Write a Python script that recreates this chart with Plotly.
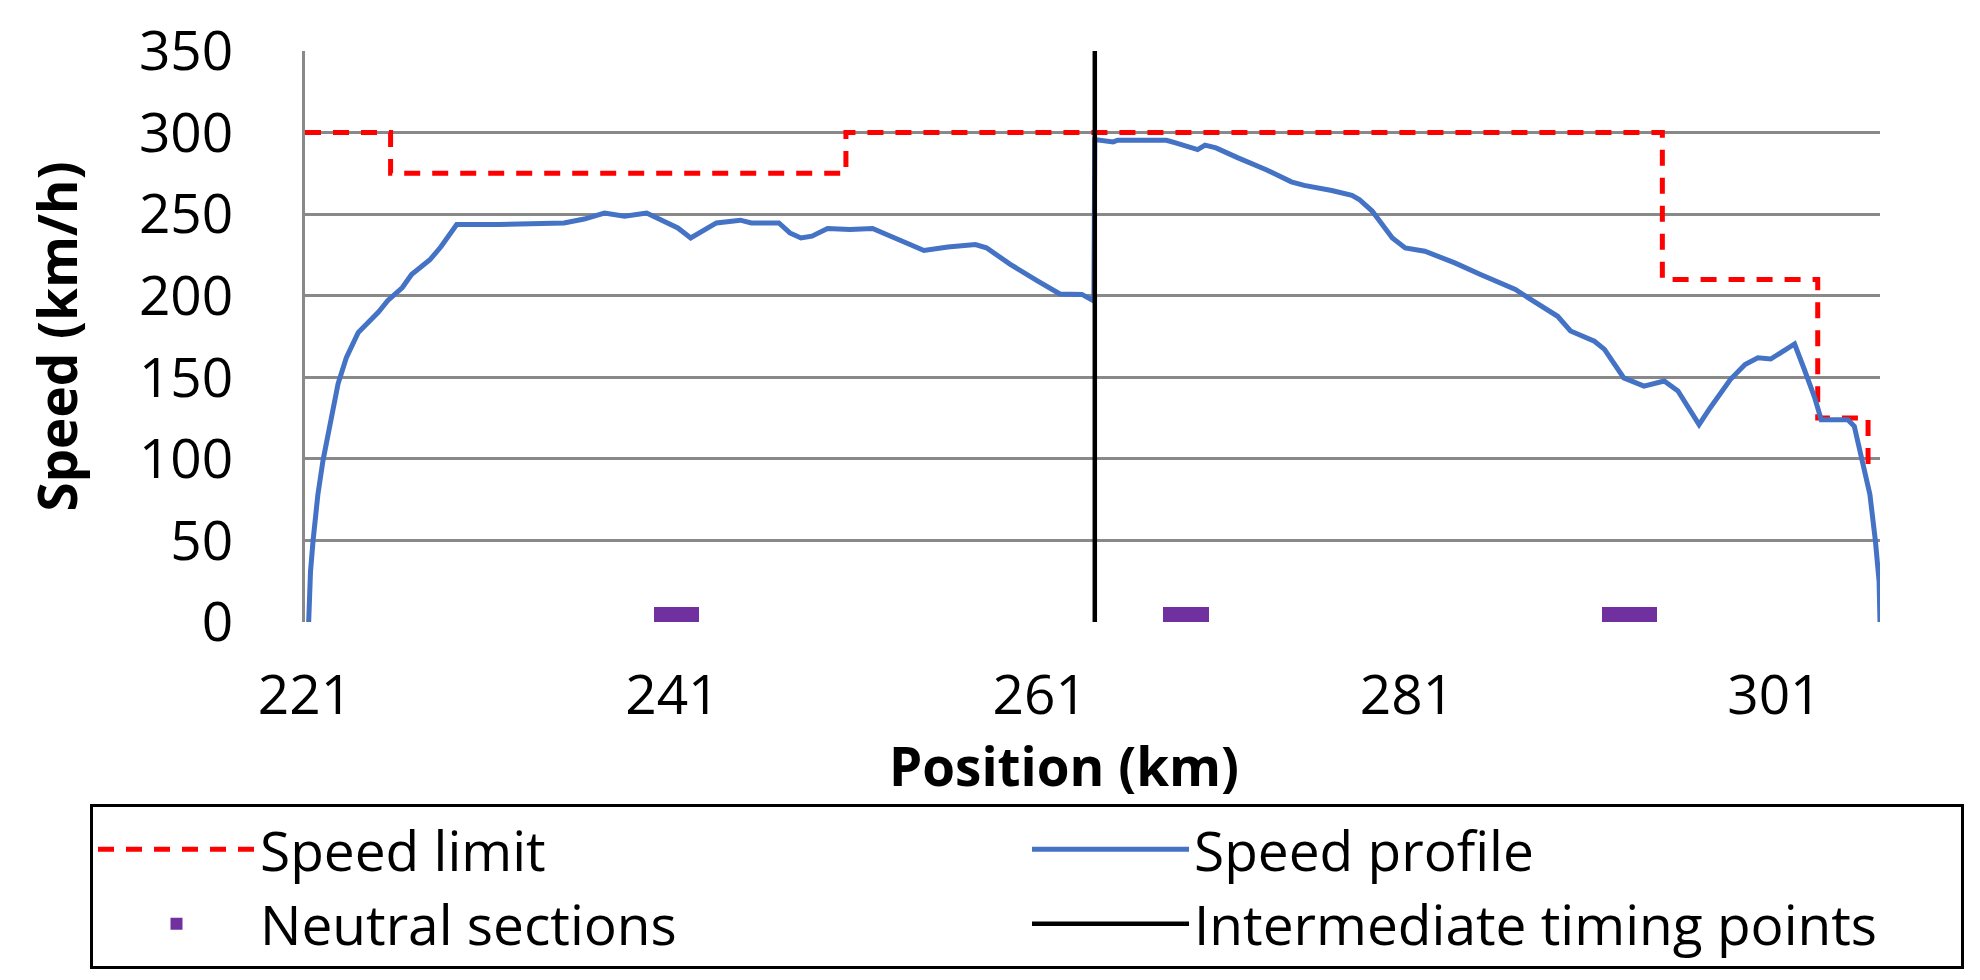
import plotly.graph_objects as go

# ---------------- data ----------------
limit_pos = [221.0, 225.66, 225.66, 250.45, 250.45, 294.9, 294.9, 303.36, 303.36, 306.1, 306.1]
limit_kmh = [300, 300, 275, 275, 300, 300, 210, 210, 125, 125, 95]

profile_pos = [221.2, 221.3, 221.44, 221.7, 221.98, 222.34, 222.8, 223.25, 223.9, 225.0,
               225.5, 226.3, 226.8, 227.8, 228.4, 229.26, 231.55, 235.1, 236.2, 237.3,
               238.4, 239.6, 240.6, 241.3, 242.0, 243.4, 244.7, 245.3, 246.8, 247.4,
               248.0, 248.6, 249.45, 250.67, 251.9, 252.85, 254.7, 256.0, 257.5, 258.1,
               259.4, 260.9, 262.1, 263.3, 263.95, 264.0, 265.0, 265.25, 267.9, 268.4,
               269.6, 270.0, 270.6, 271.8, 273.3, 274.7, 275.4, 276.9, 278.0, 278.4,
               279.1, 280.2, 280.9, 281.97, 283.6, 285.0, 286.5, 286.9, 287.6, 289.2,
               289.9, 291.2, 291.75, 292.8, 293.9, 295.0, 295.75, 296.3, 296.9, 297.5,
               298.6, 299.4, 300.1, 300.8, 302.1, 302.6, 303.2, 303.55, 305.0, 305.35,
               305.7, 306.2, 306.5, 306.7, 306.75]
profile_kmh = [0, 31, 50, 78, 99, 121, 146, 162, 177.5, 190,
               197, 205, 213, 222, 230, 243.6, 243.6, 244.6, 247, 250.7,
               248.7, 250.7, 245, 241.5, 235.4, 244.6, 246.3, 244.6, 244.6, 238.5,
               235.4, 236.5, 241.2, 240.6, 241.2, 236.5, 227.7, 229.8, 231.4, 229.4,
               219.2, 209, 201.1, 200.8, 196.7, 295.7, 294.3, 295.3, 295.3, 293.7,
               289.6, 292.3, 290.6, 284.5, 277.4, 269.8, 267.6, 264.5, 261.5, 259,
               251.9, 235.4, 229.3, 227.3, 220.1, 213, 206.2, 203.8, 198.7, 187.4,
               178.4, 172.1, 167.1, 149.6, 144.6, 147.7, 141.6, 131.2, 121, 131.2,
               148.6, 157.8, 161.9, 161.2, 170.4, 155.7, 137.3, 124, 124, 120,
               102.6, 78.2, 49.6, 25, 0]

neutral_start = [240.0, 267.7, 291.6]
neutral_end = [242.45, 270.2, 294.6]
neutral_height = 9

timing_pos = [264.0]
timing_span = [0, 350]

x_ticks = [221, 241, 261, 281, 301]
y_ticks = [0, 50, 100, 150, 200, 250, 300, 350]

x_title = "Position (km)"
y_title = "Speed (km/h)"

# ---------------- figure ----------------
FONT = "Open Sans"
W, H = 1980, 980
L, R, T, B = 297, 108, 43, 366
pw, ph = W - L - R, H - T - B

fig = go.Figure()

fig.add_trace(go.Scatter(
    x=limit_pos, y=limit_kmh, mode="lines", name="Speed limit",
    line=dict(color="#FF0000", width=5, dash="16px,12px")))

fig.add_trace(go.Scatter(
    x=profile_pos, y=profile_kmh, mode="lines", name="Speed profile",
    line=dict(color="#4472C4", width=5)))

fig.add_trace(go.Bar(
    x=[(s + e) / 2 for s, e in zip(neutral_start, neutral_end)],
    y=[neutral_height] * len(neutral_start),
    width=[e - s for s, e in zip(neutral_start, neutral_end)],
    name="Neutral sections", marker=dict(color="#7030A0", line=dict(width=0))))

for i, tp in enumerate(timing_pos):
    fig.add_trace(go.Scatter(
        x=[tp, tp], y=timing_span, mode="lines", name="Intermediate timing points",
        line=dict(color="#000000", width=4.5), showlegend=(i == 0)))

fig.update_layout(
    width=W, height=H,
    margin=dict(l=L, r=R, t=T, b=B, autoexpand=False),
    paper_bgcolor="white", plot_bgcolor="white",
    font=dict(family=FONT, size=55, color="black"),
    showlegend=True,
    legend=dict(
        orientation="h",
        x=(82 - L) / pw, y=(H - B - 796) / ph, xanchor="left", yanchor="top",
        bordercolor="black", borderwidth=3, bgcolor="white",
        itemwidth=157,
        entrywidth=762, entrywidthmode="pixels",
        font=dict(family=FONT, size=55), tracegroupgap=0,
    ),
    bargap=0,
    annotations=[dict(
        text="<b>" + x_title + "</b>", xref="paper", yref="paper",
        x=(1056 - L) / pw, y=(H - B - 757) / ph, xanchor="center", yanchor="middle",
        showarrow=False, font=dict(family=FONT, size=53, color="black"))],
)

fig.update_xaxes(
    range=[221, 306.75], tickvals=x_ticks, ticktext=[str(v) for v in x_ticks],
    showgrid=False, zeroline=False, showline=False,
    ticks="outside", ticklen=25, tickcolor="rgba(0,0,0,0)",
    tickfont=dict(family=FONT, size=55),
)
fig.update_yaxes(
    range=[0, 350], tickvals=y_ticks,
    showgrid=True, gridcolor="#898989", gridwidth=2.5,
    zeroline=False, showline=True, linecolor="#898989", linewidth=2.5,
    ticks="outside", ticklen=58, tickcolor="rgba(0,0,0,0)",
    tickfont=dict(family=FONT, size=55),
    title=dict(text="<b>" + y_title + "</b>", font=dict(family=FONT, size=53), standoff=45),
)

fig.write_html("out.html")
